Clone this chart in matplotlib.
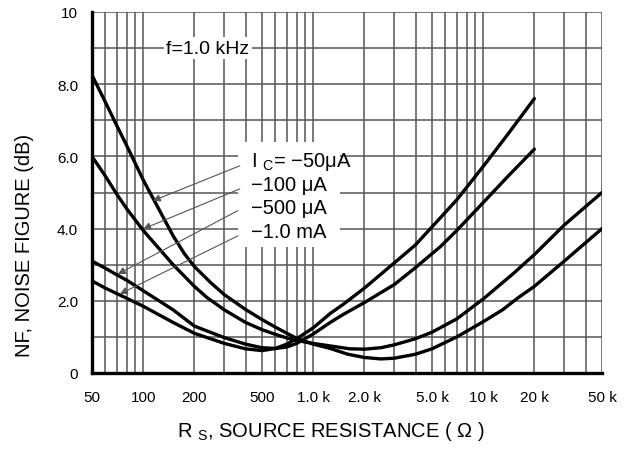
import matplotlib
matplotlib.use('Agg')
import matplotlib.pyplot as plt
from matplotlib.patches import Rectangle

plt.rcParams['font.family'] = ['Liberation Sans', 'DejaVu Sans']
plt.rcParams['mathtext.fontset'] = 'custom'
plt.rcParams['mathtext.rm'] = 'Liberation Sans'

# source resistance (ohm) and noise figure (dB)
rs_50u = [50, 60, 70, 80, 100, 117, 150, 175, 200, 250, 300, 400, 500, 600, 700, 800, 1000, 1260, 1600,
          2000, 2500, 3000, 4000, 5000, 7000, 10000, 13000, 16000, 20000, 30000, 50000]
nf_50u = [8.25, 7.5, 6.85, 6.3, 5.35, 4.75, 3.8, 3.3, 2.95, 2.5, 2.17, 1.76, 1.48, 1.27, 1.1, 0.96, 0.8, 0.68, 0.52,
          0.43, 0.39, 0.41, 0.52, 0.67, 1.0, 1.42, 1.75, 2.08, 2.4, 3.1, 4.0]

rs_100u = [50, 60, 70, 80, 100, 150, 200, 236, 300, 400, 500, 600, 700, 800, 1000, 1260, 1640, 2000,
           2500, 3000, 4000, 5000, 7000, 10000, 15000, 20000, 30000, 50000]
nf_100u = [6.0, 5.45, 4.95, 4.55, 3.95, 3.0, 2.4, 2.1, 1.75, 1.4, 1.2, 1.07, 0.97, 0.9, 0.82, 0.75, 0.67, 0.66,
           0.7, 0.78, 0.95, 1.13, 1.5, 2.05, 2.75, 3.28, 4.1, 5.0]

rs_500u = [50, 60, 70, 80, 100, 150, 200, 300, 400, 500, 600, 700, 800, 1000, 1260, 1500, 2000, 3000,
           4000, 5600, 7000, 10000, 14000, 20000]
nf_500u = [3.1, 2.9, 2.72, 2.57, 2.28, 1.75, 1.3, 0.98, 0.8, 0.7, 0.68, 0.72, 0.82, 1.08, 1.4, 1.62, 1.95, 2.45,
           2.92, 3.5, 3.95, 4.72, 5.45, 6.2]

rs_1m = [50, 60, 70, 80, 100, 150, 200, 300, 400, 500, 600, 700, 800, 1000, 1260, 1500, 2000, 3000,
         4000, 5600, 7000, 10000, 14000, 20000]
nf_1m = [2.55, 2.35, 2.2, 2.07, 1.85, 1.4, 1.1, 0.82, 0.67, 0.62, 0.68, 0.8, 0.95, 1.25, 1.65, 1.9, 2.35, 3.05,
         3.55, 4.3, 4.8, 5.72, 6.62, 7.6]

x_ticks = [50, 100, 200, 500, 1000, 2000, 5000, 10000, 20000, 50000]
x_labels = ['50', '100', '200', '500', '1.0 k', '2.0 k', '5.0 k', '10 k', '20 k', '50 k']
y_ticks = [0, 2, 4, 6, 8, 10]
y_labels = ['0', '2.0', '4.0', '6.0', '8.0', '10']

W, H = 631, 452
def px(x, y):
    # pixel position -> figure fraction
    return x / W, 1 - y / H

fig = plt.figure(figsize=(6.31, 4.52), dpi=100)
ax = fig.add_axes([92 / W, 1 - 374 / H, 510 / W, 361 / H])

ax.set_xscale('log')
ax.set_xlim(50, 50000)
ax.set_ylim(0, 10)

minor_x = [m * 10 ** e for e in (1, 2, 3, 4) for m in range(1, 10)]
minor_x = [v for v in minor_x if 50 <= v <= 50000 and v not in x_ticks]
ax.set_xticks(x_ticks)
ax.set_xticklabels(x_labels)
ax.set_xticks(minor_x, minor=True)
ax.set_yticks(y_ticks)
ax.set_yticklabels(y_labels)
ax.set_yticks([1, 3, 5, 7, 9], minor=True)
ax.tick_params(which='both', length=0, labelsize=11)
ax.tick_params(axis='x', pad=12)
ax.tick_params(axis='y', pad=10)

ax.grid(which='both', color='#555555', linewidth=1.1)
ax.set_axisbelow(True)
for s in ['top', 'right']:
    ax.spines[s].set_visible(False)
for s in ['left', 'bottom']:
    ax.spines[s].set_linewidth(2.4)
    ax.spines[s].set_zorder(5)

for rs, nf in [(rs_50u, nf_50u), (rs_100u, nf_100u), (rs_500u, nf_500u), (rs_1m, nf_1m)]:
    ax.plot(rs, nf, color='black', linewidth=2.4, solid_capstyle='round',
            solid_joinstyle='round', zorder=4)

# white patch behind the current labels
box = Rectangle(px(238, 248), 102 / W, 105 / H, transform=fig.transFigure,
                facecolor='white', edgecolor='none', zorder=2)
ax.add_patch(box)

ax.text(*px(208, 49), 'f=1.0 kHz', transform=fig.transFigure, fontsize=14,
        ha='center', va='center', zorder=3,
        bbox=dict(facecolor='white', edgecolor='none', pad=2))

ic_labels = [r'I $_\mathregular{C}$= −50μA', '−100 μA', '−500 μA', '−1.0 mA']
label_y = [162, 186, 209, 233]
for lab, yy in zip(ic_labels, label_y):
    ax.text(*px(251, yy), lab, transform=fig.transFigure, fontsize=14.5,
            ha='left', va='center', zorder=6)

# leader arrows (tail -> head, data coords)
arrows = [((370, 5.74), (114, 4.77)),
          ((370, 5.10), (100, 3.99)),
          ((361, 4.50), (71, 2.74)),
          ((361, 3.80), (73, 2.19))]
for tail, head in arrows:
    ax.annotate('', xy=head, xytext=tail, zorder=6,
                arrowprops=dict(arrowstyle='-|>', color='#555555', lw=0.8,
                                mutation_scale=11, shrinkA=0, shrinkB=0))

fig.text(*px(331, 432), r'R $_\mathregular{S}$, SOURCE RESISTANCE ( Ω )',
         fontsize=14.5, ha='center', va='center')
fig.text(*px(25, 245), 'NF, NOISE FIGURE (dB)', fontsize=14.5, rotation=90,
         ha='center', va='center')

fig.savefig('out.png', dpi=100)
